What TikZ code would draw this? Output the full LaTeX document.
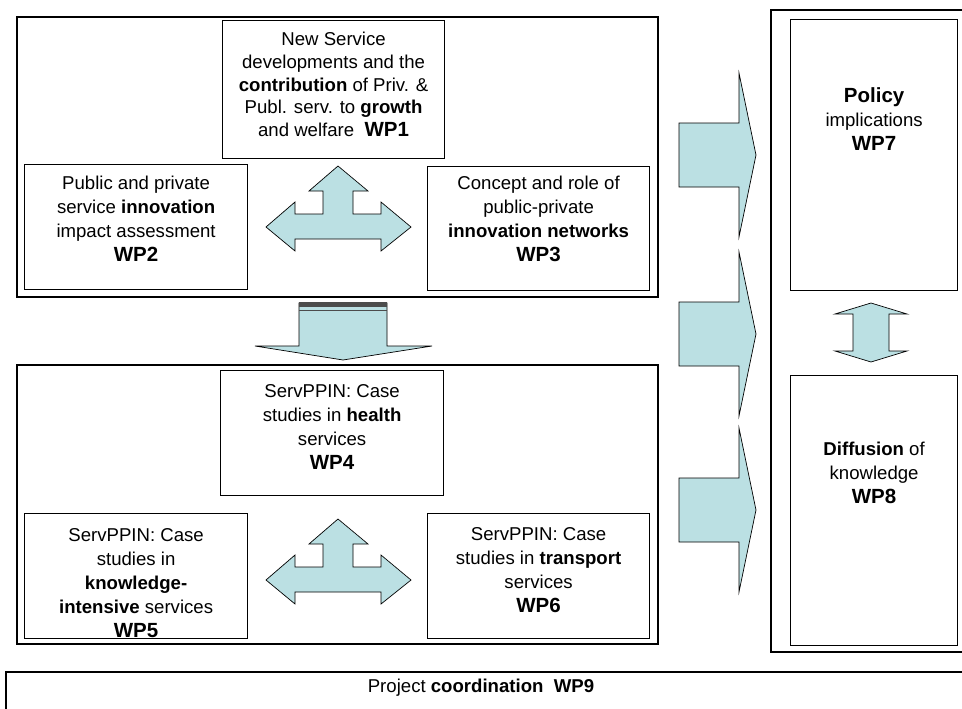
\documentclass[tikz,border=0pt]{standalone}
\usepackage{fontspec}
\setmainfont{Liberation Sans}
\usepackage{xcolor}
\usetikzlibrary{positioning}
\definecolor{arrowfill}{RGB}{187,224,227}
\newcommand{\wplabel}[1]{{\fontsize{20.5}{25}\selectfont\bfseries WP#1}}

\begin{document}
\begin{tikzpicture}[x=1pt,y=-1pt,
                    outerbox/.style={line width=1.6pt, black},
                    wpbox/.style={draw, line width=1.2pt, black, inner sep=0pt, anchor=north west},
                    wptext/.style={align=center, inner sep=0pt, font=\fontsize{18.6}{24}\selectfont},
                    fatarrow/.style={draw=black, line width=0.7pt, fill=arrowfill, line join=miter},
                   ]

\clip (0,0) rectangle (962,709);

% outer frames
\draw[outerbox] (17,17) rectangle (658,297);
\draw[outerbox] (17,365) rectangle (658,644);
\draw[outerbox] (771,10) rectangle (990,652);

% work package boxes
\node[wpbox, minimum width=222pt, minimum height=138pt] (wp1) at (222,20) {};
\node[wpbox, minimum width=223pt, minimum height=125pt] (wp2) at (24,164) {};
\node[wpbox, minimum width=222pt, minimum height=124pt] (wp3) at (427,166) {};
\node[wpbox, minimum width=223pt, minimum height=125pt] (wp4) at (220,370) {};
\node[wpbox, minimum width=223pt, minimum height=125pt] (wp5) at (24,513) {};
\node[wpbox, minimum width=222pt, minimum height=125pt] (wp6) at (427,513) {};
\node[wpbox, minimum width=167pt, minimum height=271pt] (wp7) at (790,19) {};
\node[wpbox, minimum width=167pt, minimum height=270pt] (wp8) at (790,375) {};
\node[wpbox, line width=1.6pt, minimum width=990pt, minimum height=60pt] (wp9) at (5,671) {};

\node[wptext, font=\fontsize{18.6}{22.7}\selectfont, below=12pt of wp1.north] (wp1text)
  {New Service\\developments and the\\\textbf{contribution} of Priv. \&\\Publ. serv. to \textbf{growth}\\and welfare~ \wplabel{1}};
\node[wptext, below=12pt of wp2.north] (wp2text)
  {Public and private\\service \textbf{innovation}\\impact assessment\\\wplabel{2}};
\node[wptext, below=10pt of wp3.north] (wp3text)
  {Concept and role of\\public-private\\\textbf{innovation networks}\\\wplabel{3}};
\node[wptext, below=14pt of wp4.north] (wp4text)
  {ServPPIN: Case\\studies in \textbf{health}\\services\\\wplabel{4}};
\node[wptext, below=15pt of wp5.north] (wp5text)
  {ServPPIN: Case\\studies in\\\textbf{knowledge-}\\\textbf{intensive} services\\\wplabel{5}};
\node[wptext, below=14pt of wp6.north] (wp6text)
  {ServPPIN: Case\\studies in \textbf{transport}\\services\\\wplabel{6}};
\node[wptext, below=68pt of wp7.north] (wp7text)
  {{\fontsize{20.5}{25}\selectfont\bfseries Policy}\\implications\\\wplabel{7}};
\node[wptext, below=67pt of wp8.north] (wp8text)
  {\textbf{Diffusion} of\\knowledge\\\wplabel{8}};
\node[wptext] (wp9text) at (481,688) {Project \textbf{coordination}~ \textbf{WP9}};

% three-way arrows inside the frames
\foreach \dy in {0,353} {
  \draw[fatarrow, shift={(0,\dy)}] (338,166) -- (368,191) -- (353,191) -- (353,214) -- (381,214)
    -- (381,202) -- (411,227) -- (381,251) -- (381,239) -- (295,239) -- (295,251) -- (266,227)
    -- (295,202) -- (295,214) -- (323,214) -- (323,191) -- (309,191) -- cycle;
}

% arrow from the top frame to the bottom frame
\draw[fatarrow] (299,303) -- (387,303) -- (387,346) -- (432,346) -- (343,360) -- (255,346)
  -- (299,346) -- cycle;
\fill[black!70] (299,302) rectangle (387,307);
\draw[black!70, line width=1pt] (299,310) -- (387,310);

% arrows towards WP7/WP8
\foreach \cy in {155,334,510} {
  \draw[fatarrow] (679,\cy-32) -- (739,\cy-32) -- (739,\cy-82) -- (756,\cy) -- (739,\cy+82)
    -- (739,\cy+32) -- (679,\cy+32) -- cycle;
}

% between WP7 and WP8
\draw[fatarrow] (871,303) -- (907,314) -- (889,314) -- (889,351) -- (907,351) -- (871,362)
  -- (835,351) -- (853,351) -- (853,314) -- (835,314) -- cycle;

\end{tikzpicture}
\end{document}
